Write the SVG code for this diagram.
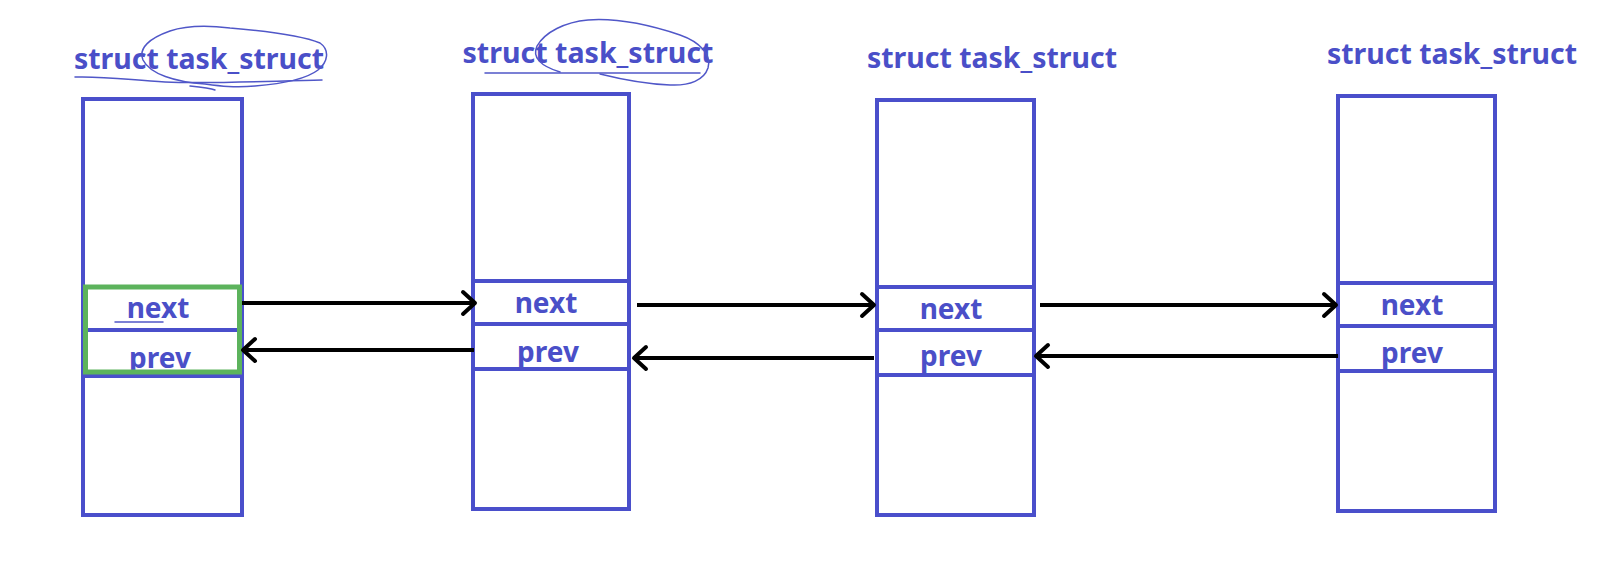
<svg xmlns="http://www.w3.org/2000/svg" width="1606" height="566" viewBox="0 0 1606 566">
  <style>
    .box { fill: #ffffff; stroke: #4a4fcb; stroke-width: 4; }
    .cell { stroke: #4a4fcb; stroke-width: 4; fill: none; }
    .title { font-family: "Noto Sans", "Liberation Sans", sans-serif; font-weight: bold; font-size: 29px; fill: #4a4fc8; text-anchor: middle; }
    .field { font-family: "Noto Sans", "Liberation Sans", sans-serif; font-weight: bold; font-size: 28px; fill: #4a4fc8; text-anchor: middle; }
    .ink { fill: none; stroke: #5057c8; stroke-width: 1.5; stroke-linecap: round; stroke-linejoin: round; }
    .link { fill: none; stroke: #000000; stroke-width: 4; marker-end: url(#chev); }
  </style>
  <defs>
    <marker id="chev" markerUnits="userSpaceOnUse" markerWidth="18" markerHeight="28" viewBox="0 0 18 28" refX="15" refY="14" orient="auto">
      <path d="M3,3 L15,14 L3,25" fill="none" stroke="#000000" stroke-width="4" stroke-linecap="round" stroke-linejoin="round"/>
    </marker>
  </defs>
  <rect width="1606" height="566" fill="#ffffff"/>

  <g id="node1">
    <text class="title" x="199" y="69" textLength="250" lengthAdjust="spacingAndGlyphs">struct task_struct</text>
    <path class="ink" d="M75,77 C105,76 130,80 165,82 C210,84 270,81 322,80"/>
    <path class="ink" d="M205,84 C175,82 150,74 143,60 C138,48 150,38 170,31 C185,26 205,25 230,28 C265,31 300,35 320,43 C330,50 328,62 318,70 C305,80 280,84 255,86 C235,88 220,86 205,84"/>
    <path class="ink" d="M190,86 C200,87 210,88 215,90" stroke-width="2"/>
    <rect class="box" x="83" y="99" width="159" height="416"/>
    <line class="cell" x1="83" y1="330" x2="242" y2="330"/>
    <line class="cell" x1="83" y1="376" x2="242" y2="376"/>
    <text class="field" x="158" y="318">next</text>
    <text class="field" x="160" y="368">prev</text>
    <line class="ink" x1="115" y1="322" x2="163" y2="322" stroke-width="2"/>
    <rect x="85.5" y="287" width="154" height="85" fill="none" stroke="#5cb35c" stroke-width="5"/>
  </g>

  <g id="node2">
    <text class="title" x="588" y="63" textLength="251" lengthAdjust="spacingAndGlyphs">struct task_struct</text>
    <path class="ink" d="M485,73 L700,73"/>
    <path class="ink" d="M560,72 C540,66 532,57 537,46 C545,32 565,22 588,20 C615,18 650,25 680,35 C700,42 712,55 708,68 C704,80 690,86 670,85 C645,84 620,79 600,74"/>
    <rect class="box" x="473" y="94" width="156" height="415"/>
    <line class="cell" x1="473" y1="281" x2="629" y2="281"/>
    <line class="cell" x1="473" y1="324" x2="629" y2="324"/>
    <line class="cell" x1="473" y1="369" x2="629" y2="369"/>
    <text class="field" x="546" y="313">next</text>
    <text class="field" x="548" y="362">prev</text>
  </g>

  <g id="node3">
    <text class="title" x="992" y="68" textLength="250" lengthAdjust="spacingAndGlyphs">struct task_struct</text>
    <rect class="box" x="877" y="100" width="157" height="415"/>
    <line class="cell" x1="877" y1="287" x2="1034" y2="287"/>
    <line class="cell" x1="877" y1="330" x2="1034" y2="330"/>
    <line class="cell" x1="877" y1="375" x2="1034" y2="375"/>
    <text class="field" x="951" y="319">next</text>
    <text class="field" x="951" y="366">prev</text>
  </g>

  <g id="node4">
    <text class="title" x="1452" y="64" textLength="250" lengthAdjust="spacingAndGlyphs">struct task_struct</text>
    <rect class="box" x="1338" y="96" width="157" height="415"/>
    <line class="cell" x1="1338" y1="283" x2="1495" y2="283"/>
    <line class="cell" x1="1338" y1="326" x2="1495" y2="326"/>
    <line class="cell" x1="1338" y1="371" x2="1495" y2="371"/>
    <text class="field" x="1412" y="315">next</text>
    <text class="field" x="1412" y="363">prev</text>
  </g>

  <g id="connectors">
    <line class="link" x1="242" y1="303" x2="475" y2="303"/>
    <line class="link" x1="474" y1="350" x2="243" y2="350"/>
    <line class="link" x1="637" y1="305" x2="874" y2="305" stroke-width="5"/>
    <line class="link" x1="874" y1="358" x2="634" y2="358"/>
    <line class="link" x1="1040" y1="305" x2="1336" y2="305"/>
    <line class="link" x1="1338" y1="356" x2="1036" y2="356"/>
  </g>
</svg>
